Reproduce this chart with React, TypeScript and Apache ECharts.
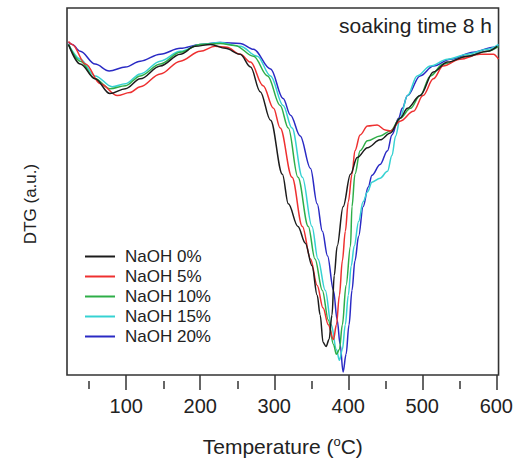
import React, { useEffect, useRef } from "react";
import * as echarts from "echarts";

const seriesNames = ["NaOH 0%", "NaOH 5%", "NaOH 10%", "NaOH 15%", "NaOH 20%"];
const seriesColors = ["#1c1c1c", "#ee3030", "#2eae48", "#36d2d2", "#2a2ac4"];

const tempsBlack = [22, 38, 58, 78, 99, 119, 146, 173, 193, 214, 234, 254, 268, 281, 295, 311, 319, 332, 342, 351, 358, 362, 366, 370, 374, 378, 381, 385, 393, 403, 412, 426, 443, 457, 470, 480, 497, 515, 534, 561, 588, 601];
const dtgBlack = [-3.7, -5.7, -7.2, -8.7, -8.2, -7.2, -5.9, -4.7, -3.9, -3.7, -4.1, -4.7, -6.0, -8.5, -11.4, -16.9, -19.9, -22.2, -23.9, -26.2, -29.2, -31.2, -34.0, -34.4, -33.7, -31.2, -27.2, -24.2, -20.2, -16.9, -15.2, -14.2, -13.4, -12.7, -11.2, -10.2, -8.9, -6.5, -5.5, -4.9, -4.4, -3.9];

const tempsRed = [22, 27, 45, 65, 88, 105, 119, 146, 173, 200, 220, 236, 254, 268, 285, 299, 308, 324, 338, 349, 358, 366, 373, 380, 384, 388, 392, 396, 400, 405, 409, 416, 426, 439, 450, 457, 470, 488, 501, 515, 528, 551, 578, 596, 603];
const dtgRed = [-3.4, -3.7, -5.7, -7.7, -8.9, -8.6, -8.0, -6.7, -5.4, -4.4, -3.9, -4.0, -4.7, -5.5, -7.9, -10.2, -12.2, -17.2, -22.2, -25.5, -28.2, -30.5, -32.2, -33.7, -32.2, -29.2, -25.7, -22.7, -19.7, -16.9, -14.5, -12.9, -12.0, -11.9, -12.4, -12.5, -11.5, -10.5, -8.9, -7.2, -5.9, -5.2, -4.7, -4.7, -5.2];

const tempsGreen = [22, 38, 58, 78, 99, 119, 146, 173, 200, 227, 247, 272, 291, 308, 319, 332, 346, 355, 365, 373, 380, 384, 388, 392, 397, 403, 405, 409, 416, 426, 443, 457, 470, 484, 497, 511, 528, 561, 588, 603];
const dtgGreen = [-3.7, -5.4, -7.2, -8.2, -7.9, -6.9, -5.7, -4.5, -3.7, -3.6, -3.8, -4.9, -6.9, -9.9, -12.2, -17.2, -22.2, -25.5, -28.7, -31.7, -34.2, -35.2, -34.7, -32.2, -28.2, -24.2, -20.2, -16.9, -14.5, -13.5, -13.0, -12.5, -11.2, -10.2, -8.9, -6.9, -5.7, -4.9, -4.4, -3.9];

const tempsCyan = [22, 38, 58, 81, 99, 119, 146, 173, 200, 227, 254, 277, 295, 312, 324, 338, 351, 359, 369, 377, 384, 388, 392, 396, 400, 404, 408, 414, 420, 426, 432, 443, 453, 459, 464, 470, 480, 493, 511, 534, 561, 588, 603];
const dtgCyan = [-3.7, -5.2, -6.9, -8.0, -7.7, -6.7, -5.4, -4.4, -3.7, -3.5, -3.9, -4.9, -6.9, -9.9, -12.2, -17.2, -22.2, -25.5, -28.7, -32.2, -34.7, -35.8, -34.7, -32.2, -29.2, -26.2, -24.2, -21.7, -19.7, -18.7, -17.7, -17.3, -16.6, -15.0, -13.0, -11.2, -8.9, -6.9, -5.9, -5.2, -4.7, -4.2, -3.7];

const tempsBlue = [22, 27, 38, 58, 77, 99, 119, 146, 173, 200, 227, 254, 272, 295, 312, 322, 335, 349, 358, 365, 372, 380, 385, 389, 393, 397, 401, 405, 409, 414, 420, 427, 432, 443, 453, 459, 468, 473, 480, 497, 515, 538, 569, 596, 603];
const dtgBlue = [-3.5, -3.7, -4.4, -5.7, -6.4, -6.0, -5.4, -4.7, -4.1, -3.7, -3.5, -3.6, -4.2, -6.2, -9.2, -10.9, -13.0, -16.3, -19.9, -22.7, -25.2, -28.7, -31.7, -34.2, -37.0, -35.2, -32.2, -28.7, -25.7, -23.2, -20.2, -18.2, -17.0, -15.9, -14.5, -12.9, -11.2, -10.2, -8.9, -6.9, -5.9, -5.2, -4.5, -4.0, -3.8];

const majorTicks = [100, 200, 300, 400, 500, 600];
const minorTicks = [50, 150, 250, 350, 450, 550];

const allTemps = [tempsBlack, tempsRed, tempsGreen, tempsCyan, tempsBlue];
const allDtg = [dtgBlack, dtgRed, dtgGreen, dtgCyan, dtgBlue];

const FONT = "Liberation Sans, Arial, Helvetica, sans-serif";

export default function App() {
  const ref = useRef<HTMLDivElement>(null);
  useEffect(() => {
    if (!ref.current) return;
    const chart = echarts.init(ref.current, null, { renderer: "svg" });
    const series = seriesNames.map((name, k) => ({
      name,
      type: "line",
      xAxisIndex: 0,
      yAxisIndex: 0,
      data: allTemps[k].map((t, i) => [t, allDtg[k][i]]),
      symbol: "none",
      smooth: 0.35,
      smoothMonotone: "x",
      lineStyle: { color: seriesColors[k], width: 1.5 },
      itemStyle: { color: seriesColors[k] },
      z: 5 - k,
    }));
    const gridRect = { left: 67, top: 8, width: 432, height: 373 };
    chart.setOption({
      animation: false,
      backgroundColor: "#ffffff",
      textStyle: { fontFamily: FONT },
      grid: [
        {
          ...gridRect,
          show: true,
          borderColor: "#333",
          borderWidth: 1.6,
          backgroundColor: "transparent",
        },
        { ...gridRect, show: false },
      ],
      xAxis: [
        {
          type: "value",
          gridIndex: 0,
          min: 20,
          max: 603,
          position: "bottom",
          axisLine: { show: false, onZero: false },
          splitLine: { show: false },
          axisTick: {
            show: true,
            inside: false,
            length: 15,
            customValues: majorTicks,
            lineStyle: { color: "#333", width: 1.5 },
          },
          axisLabel: {
            customValues: majorTicks,
            margin: 21,
            fontSize: 20,
            color: "#222",
            fontFamily: FONT,
          },
          name: "Temperature ({sup|o}C)",
          nameLocation: "middle",
          nameGap: 60,
          nameTextStyle: {
            fontSize: 21,
            color: "#222",
            fontFamily: FONT,
            rich: {
              sup: { fontSize: 13, verticalAlign: "top", padding: [0, 0, 10, 0], color: "#222", fontFamily: FONT },
            },
          },
        },
        {
          type: "value",
          gridIndex: 1,
          min: 20,
          max: 603,
          position: "bottom",
          axisLine: { show: false, onZero: false },
          splitLine: { show: false },
          axisLabel: { show: false },
          axisTick: {
            show: true,
            inside: false,
            length: 8,
            customValues: minorTicks,
            lineStyle: { color: "#333", width: 1.5 },
          },
        },
      ],
      yAxis: [0, 1].map((g) => ({
        type: "value",
        gridIndex: g,
        min: -37.3,
        max: 0,
        axisLine: { show: false, onZero: false },
        axisTick: { show: false },
        axisLabel: { show: false },
        splitLine: { show: false },
      })),
      legend: {
        orient: "vertical",
        left: 85,
        top: 248,
        padding: 0,
        itemWidth: 30,
        itemHeight: 14,
        itemGap: 3,
        textStyle: { fontSize: 17, color: "#222", fontFamily: FONT, padding: [0, 0, 0, 5] },
        data: seriesNames.map((n, k) => ({
          name: n,
          icon: "path://M0,6 L30,6 L30,8 L0,8 Z",
          itemStyle: { color: seriesColors[k] },
        })),
      },
      graphic: [
        {
          type: "text",
          x: 492,
          y: 25,
          style: {
            text: "soaking time 8 h",
            fontSize: 21,
            fontFamily: FONT,
            fill: "#222",
            textAlign: "right",
            textVerticalAlign: "middle",
          },
        },
        {
          type: "text",
          x: 30,
          y: 204,
          rotation: Math.PI / 2,
          style: {
            text: "DTG (a.u.)",
            fontSize: 17,
            fontFamily: FONT,
            fill: "#222",
            textAlign: "center",
            textVerticalAlign: "middle",
          },
        },
      ],
      series,
    });
    return () => chart.dispose();
  }, []);
  return (
    <div
      ref={ref}
      style={{ position: "fixed", left: 0, top: 0, width: 516, height: 462, background: "#fff" }}
    />
  );
}
